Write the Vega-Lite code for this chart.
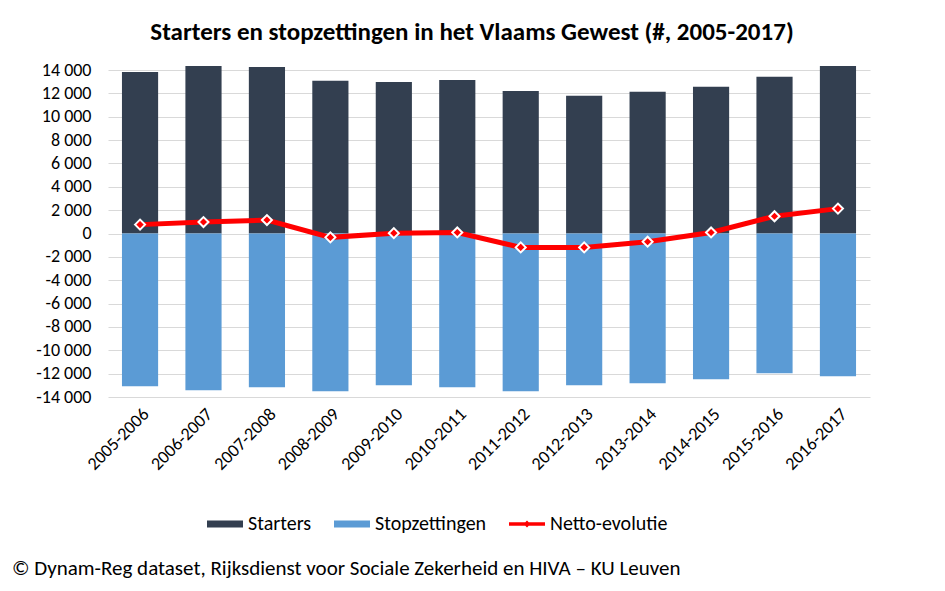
{
  "$schema": "https://vega.github.io/schema/vega-lite/v6.json",
  "background": "white",
  "padding": {"left": 12, "top": 20, "right": 10, "bottom": 4},
  "config": {
    "font": "Carlito, Lato, sans-serif",
    "locale": {"number": {"decimal": ",", "thousands": " ", "grouping": [3], "currency": ["", ""], "minus": "-"}},
    "view": {"stroke": null},
    "concat": {"spacing": 0},
    "axis": {"labelOverlap": false},
    "axisY": {"labelOverlap": false},
    "axisQuantitative": {"labelOverlap": false}
  },
  "title": {"text": "© Dynam-Reg dataset, Rijksdienst voor Sociale Zekerheid en HIVA – KU Leuven", "orient": "bottom", "anchor": "start", "frame": "bounds", "fontSize": 21, "fontWeight": "normal", "color": "#000000", "offset": 24},
  "vconcat": [
    {
      "width": 762,
      "height": 327,
      "title": {"text": "Starters en stopzettingen in het Vlaams Gewest (#, 2005-2017)", "fontSize": 25, "fontWeight": "bold", "color": "#000000", "anchor": "middle", "frame": "group", "dx": -17, "offset": 16},
      "data": {"values": [
        {"periode": "2005-2006", "Starters": 13830, "Stopzettingen": -13080, "Netto": 760},
        {"periode": "2006-2007", "Starters": 14350, "Stopzettingen": -13430, "Netto": 980},
        {"periode": "2007-2008", "Starters": 14260, "Stopzettingen": -13170, "Netto": 1150},
        {"periode": "2008-2009", "Starters": 13070, "Stopzettingen": -13510, "Netto": -330},
        {"periode": "2009-2010", "Starters": 12980, "Stopzettingen": -13000, "Netto": 30},
        {"periode": "2010-2011", "Starters": 13150, "Stopzettingen": -13170, "Netto": 90},
        {"periode": "2011-2012", "Starters": 12210, "Stopzettingen": -13510, "Netto": -1190},
        {"periode": "2012-2013", "Starters": 11790, "Stopzettingen": -13000, "Netto": -1190},
        {"periode": "2013-2014", "Starters": 12130, "Stopzettingen": -12830, "Netto": -700},
        {"periode": "2014-2015", "Starters": 12560, "Stopzettingen": -12480, "Netto": 90},
        {"periode": "2015-2016", "Starters": 13420, "Stopzettingen": -11970, "Netto": 1480},
        {"periode": "2016-2017", "Starters": 14350, "Stopzettingen": -12230, "Netto": 2130}
      ]},
      "encoding": {
        "x": {
          "field": "periode", "type": "nominal", "sort": null,
          "scale": {"paddingInner": 0.43, "paddingOuter": 0.22},
          "axis": {"title": null, "labelAngle": -45, "labelFontSize": 18, "labelColor": "#000000", "ticks": false, "domain": false, "grid": false, "labelPadding": 8}
        }
      },
      "layer": [
        {
          "transform": [{"fold": ["Starters", "Stopzettingen"], "as": ["serie", "waarde"]}],
          "mark": {"type": "bar"},
          "encoding": {
            "y": {
              "field": "waarde", "type": "quantitative", "stack": null, "title": null,
              "scale": {"domain": [-14000, 14000], "nice": false},
              "axis": {"title": null, "values": [-14000, -12000, -10000, -8000, -6000, -4000, -2000, 0, 2000, 4000, 6000, 8000, 10000, 12000, 14000], "format": ",d", "labelFontSize": 18, "labelColor": "#000000", "labelOverlap": false, "ticks": false, "domain": false, "gridColor": "#D9D9D9", "gridWidth": 1, "labelPadding": 17, "minExtent": 96}
            },
            "color": {
              "field": "serie", "type": "nominal",
              "scale": {"domain": ["Starters", "Stopzettingen", "Netto-evolutie"], "range": ["#333F50", "#5B9BD5", "#FF0000"]},
              "legend": {
                "title": null, "orient": "none", "legendX": 99, "legendY": 436, "direction": "horizontal",
                "labelFontSize": 20, "labelColor": "#000000", "symbolSize": 1296, "symbolOpacity": 1,
                "columnPadding": 22, "labelOffset": 5, "padding": 0,
                "encode": {
                  "symbols": {"update": {
                    "shape": {"signal": "datum.value === 'Netto-evolutie' ? 'M-1,-0.1H1V0.1H-1Z M0,-0.19L0.19,0L0,0.19L-0.19,0Z' : 'M-1,-0.2H1V0.2H-1Z'"},
                    "fill": {"signal": "scale('color', datum.value)"},
                    "strokeWidth": {"value": 0},
                    "opacity": {"value": 1}
                  }}
                }
              }
            }
          }
        },
        {
          "mark": {"type": "line", "strokeWidth": 5},
          "encoding": {
            "y": {"field": "Netto", "type": "quantitative", "title": null,
              "axis": {"title": null, "values": [-14000, -12000, -10000, -8000, -6000, -4000, -2000, 0, 2000, 4000, 6000, 8000, 10000, 12000, 14000], "format": ",d", "labelFontSize": 18, "labelColor": "#000000", "labelOverlap": false, "ticks": false, "domain": false, "gridColor": "#D9D9D9", "gridWidth": 1, "labelPadding": 17, "minExtent": 96}},
            "color": {"datum": "Netto-evolutie"}
          }
        },
        {
          "mark": {"type": "point", "shape": "diamond", "filled": true, "fill": "#FF0000", "stroke": "#FFFFFF", "strokeWidth": 2, "size": 100, "opacity": 1},
          "encoding": {
            "y": {"field": "Netto", "type": "quantitative", "title": null,
              "axis": {"title": null, "values": [-14000, -12000, -10000, -8000, -6000, -4000, -2000, 0, 2000, 4000, 6000, 8000, 10000, 12000, 14000], "format": ",d", "labelFontSize": 18, "labelColor": "#000000", "labelOverlap": false, "ticks": false, "domain": false, "gridColor": "#D9D9D9", "gridWidth": 1, "labelPadding": 17, "minExtent": 96}}
          }
        }
      ]
    }
  ]
}
